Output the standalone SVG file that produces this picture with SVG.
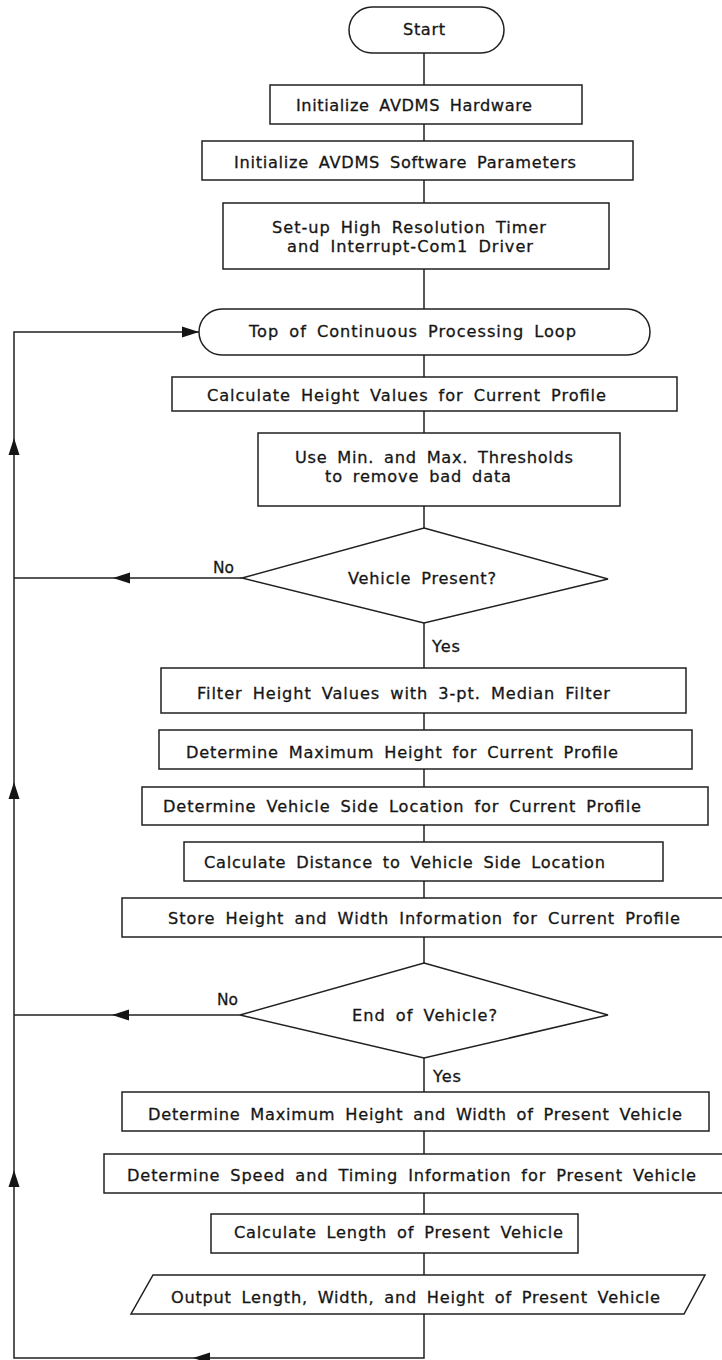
<svg xmlns="http://www.w3.org/2000/svg" width="722" height="1360" viewBox="0 0 722 1360">
  <style>
    .shape { fill: #ffffff; stroke: #202020; stroke-width: 1.5; }
    .wire { fill: none; stroke: #202020; stroke-width: 1.5; }
    .head { fill: #151515; stroke: none; }
    text { font-family: "DejaVu Sans", "Liberation Sans", sans-serif; font-size: 16.2px; fill: #161616; stroke: #161616; stroke-width: 0.3px; word-spacing: 4px; }
  </style>
  <defs>
    <!-- arrowhead pointing right, tip at origin -->
    <path id="arrow" d="M0,0 L-17,-5.5 L-17,5.5 Z"/>
  </defs>
  <rect width="722" height="1360" fill="#ffffff"/>

  <!-- connectors -->
  <g id="connectors">
    <path class="wire" d="M424,53 V85 M424,124 V141 M424,180 V203 M424,269 V309 M424,355 V377 M424,411 V433 M424,506 V528 M424,623 V668 M424,713 V730 M424,769 V787 M424,825 V842 M424,881 V898 M424,937 V963 M424,1058 V1092 M424,1131 V1154 M424,1193 V1214 M424,1253 V1275"/>
    <!-- return path back to the loop top -->
    <path class="wire" d="M424,1314 V1358 H14 V332 H199"/>
    <path class="wire" d="M242,578 H14"/>
    <path class="wire" d="M240,1015 H14"/>
    <use href="#arrow" class="head" transform="translate(199,332)"/>
    <use href="#arrow" class="head" transform="translate(113,578) rotate(180)"/>
    <use href="#arrow" class="head" transform="translate(112,1015) rotate(180)"/>
    <use href="#arrow" class="head" transform="translate(193,1358) rotate(180)"/>
    <use href="#arrow" class="head" transform="translate(14,438) rotate(-90)"/>
    <use href="#arrow" class="head" transform="translate(14,782) rotate(-90)"/>
    <use href="#arrow" class="head" transform="translate(14,1170) rotate(-90)"/>
    <text x="213" y="573" textLength="21" lengthAdjust="spacingAndGlyphs">No</text>
    <text x="432" y="652" textLength="28" lengthAdjust="spacing">Yes</text>
    <text x="217" y="1005" textLength="21" lengthAdjust="spacingAndGlyphs">No</text>
    <text x="433" y="1082" textLength="28" lengthAdjust="spacing">Yes</text>
  </g>

  <g id="start">
    <rect class="shape" x="349" y="7" width="155" height="46" rx="23" ry="23"/>
    <text x="403" y="35" textLength="42" lengthAdjust="spacing">Start</text>
  </g>

  <g id="init-hardware">
    <rect class="shape" x="270" y="85" width="312" height="39"/>
    <text x="296" y="110.5" textLength="236" lengthAdjust="spacing">Initialize AVDMS Hardware</text>
  </g>

  <g id="init-software">
    <rect class="shape" x="202" y="141" width="431" height="39"/>
    <text x="234" y="168" textLength="342" lengthAdjust="spacing">Initialize AVDMS Software Parameters</text>
  </g>

  <g id="setup-timer">
    <rect class="shape" x="223" y="203" width="386" height="66"/>
    <text x="272" y="233" textLength="274" lengthAdjust="spacing">Set-up High Resolution Timer</text>
    <text x="287" y="252" textLength="246" lengthAdjust="spacing">and Interrupt-Com1 Driver</text>
  </g>

  <g id="loop-top">
    <rect class="shape" x="199" y="309" width="451" height="46" rx="23" ry="23"/>
    <text x="249" y="337" textLength="327" lengthAdjust="spacing">Top of Continuous Processing Loop</text>
  </g>

  <g id="calc-height">
    <rect class="shape" x="172" y="377" width="505" height="34"/>
    <text x="207" y="401" textLength="399" lengthAdjust="spacing">Calculate Height Values for Current Profile</text>
  </g>

  <g id="thresholds">
    <rect class="shape" x="258" y="433" width="362" height="73"/>
    <text x="295" y="463" textLength="278" lengthAdjust="spacing">Use Min. and Max. Thresholds</text>
    <text x="325" y="482" textLength="186" lengthAdjust="spacing">to remove bad data</text>
  </g>

  <g id="vehicle-present">
    <polygon class="shape" points="424,528 608,579 424,623 242,578"/>
    <text x="348" y="584" textLength="148" lengthAdjust="spacing">Vehicle Present?</text>
  </g>

  <g id="median-filter">
    <rect class="shape" x="161" y="668" width="525" height="45"/>
    <text x="197" y="699" textLength="413" lengthAdjust="spacing">Filter Height Values with 3-pt. Median Filter</text>
  </g>

  <g id="max-height">
    <rect class="shape" x="159" y="730" width="533" height="39"/>
    <text x="186" y="757.5" textLength="432" lengthAdjust="spacing">Determine Maximum Height for Current Profile</text>
  </g>

  <g id="side-location">
    <rect class="shape" x="142" y="787" width="566" height="38"/>
    <text x="163" y="812" textLength="478" lengthAdjust="spacing">Determine Vehicle Side Location for Current Profile</text>
  </g>

  <g id="side-distance">
    <rect class="shape" x="184" y="842" width="479" height="39"/>
    <text x="204" y="868" textLength="401" lengthAdjust="spacing">Calculate Distance to Vehicle Side Location</text>
  </g>

  <g id="store-profile">
    <rect class="shape" x="122" y="898" width="610" height="39"/>
    <text x="168" y="924" textLength="512" lengthAdjust="spacing">Store Height and Width Information for Current Profile</text>
  </g>

  <g id="end-of-vehicle">
    <polygon class="shape" points="424,963 608,1015 424,1058 240,1015"/>
    <text x="352" y="1021" textLength="145" lengthAdjust="spacing">End of Vehicle?</text>
  </g>

  <g id="max-height-width">
    <rect class="shape" x="122" y="1092" width="587" height="39"/>
    <text x="148" y="1120" textLength="534" lengthAdjust="spacing">Determine Maximum Height and Width of Present Vehicle</text>
  </g>

  <g id="speed-timing">
    <rect class="shape" x="104" y="1154" width="628" height="39"/>
    <text x="127" y="1181" textLength="569" lengthAdjust="spacing">Determine Speed and Timing Information for Present Vehicle</text>
  </g>

  <g id="vehicle-length">
    <rect class="shape" x="211" y="1214" width="367" height="39"/>
    <text x="234" y="1238" textLength="329" lengthAdjust="spacing">Calculate Length of Present Vehicle</text>
  </g>

  <g id="output-dimensions">
    <polygon class="shape" points="153,1275 705,1275 684,1314 131,1314"/>
    <text x="171" y="1303" textLength="489" lengthAdjust="spacing">Output Length, Width, and Height of Present Vehicle</text>
  </g>
</svg>
